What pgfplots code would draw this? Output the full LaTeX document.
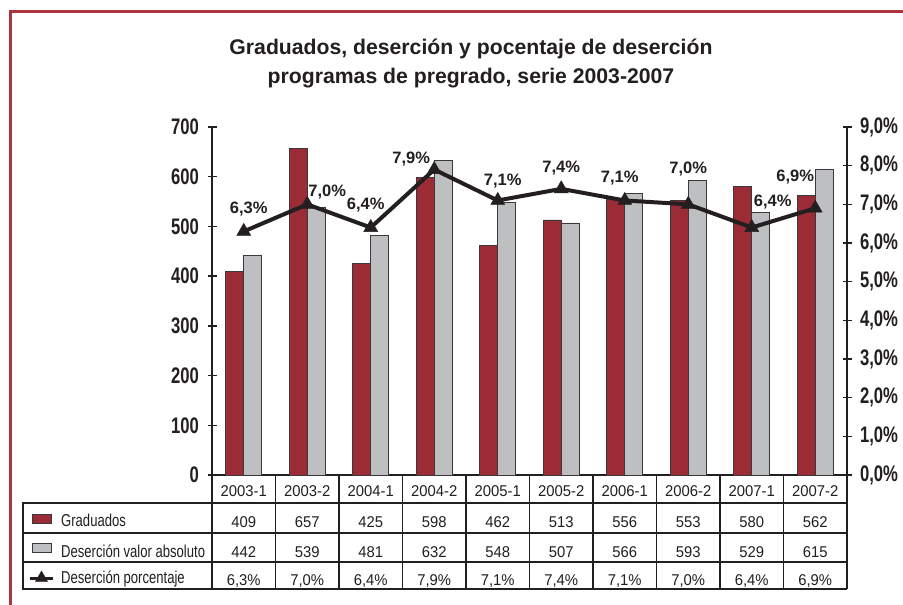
\documentclass[border=0pt]{standalone}
\usepackage{pgfplots}
\usepackage{pgfplotstable}
\pgfplotsset{compat=1.18}
\usepackage{fontspec}
\setmainfont{Liberation Sans}
\newfontfamily\narrowfont{Liberation Sans}[FakeStretch=0.74]
\newfontfamily\tabfont{Liberation Sans}[FakeStretch=0.76]
\newfontfamily\numfont{Liberation Sans}[FakeStretch=0.95]
\pgfkeys{/pgf/number format/assume math mode=true}

\definecolor{barred}{RGB}{155,43,53}
\definecolor{bargray}{RGB}{190,191,193}
\definecolor{bardraw}{RGB}{60,55,56}
\definecolor{ink}{RGB}{35,31,32}
\definecolor{framered}{RGB}{172,52,64}

% semester, graduates, dropouts (abs), dropout rate (%), label offsets (px)
\pgfplotstableread{
x lab grad des pct dx dy
0 2003-1 409 442 6.3 5 22
1 2003-2 657 539 7.0 20 12
2 2004-1 425 481 6.4 -5 23
3 2004-2 598 632 7.9 -23 11
4 2005-1 462 548 7.1 5 19
5 2005-2 513 507 7.4 0 21
6 2006-1 556 566 7.1 -5 22
7 2006-2 553 593 7.0 0 35
8 2007-1 580 529 6.4 21 26
9 2007-2 562 615 6.9 -20 31
}\semdata

\newcommand{\pct}[1]{\pgfmathprintnumber[fixed,fixed zerofill,precision=1,use comma]{#1}\%}

\begin{document}
\begin{tikzpicture}[
  tab/.style={anchor=base, inner sep=0pt, text=ink, font=\fontsize{15.6}{18}\numfont},
  leg/.style={anchor=base west, inner sep=0pt, text=ink, font=\fontsize{17.2}{19}\tabfont}]
\useasboundingbox (0pt,0pt) rectangle (903pt,-605pt);
\fill[white] (0pt,0pt) rectangle (903pt,-605pt);
\draw[framered, line width=3pt] (10pt,-605pt) -- (10pt,-11pt) -- (903pt,-11pt);

\node[anchor=base, inner sep=0pt, text=ink, font=\fontsize{21.2}{24}\selectfont\bfseries]
  at (471pt,-54pt) {Graduados, deserción y pocentaje de deserción};
\node[anchor=base, inner sep=0pt, text=ink, font=\fontsize{21.2}{24}\selectfont\bfseries]
  at (471pt,-83pt) {programas de pregrado, serie 2003-2007};

\pgfplotsset{
  every axis/.append style={
    scale only axis, width=635pt, height=348pt,
    at={(212pt,-475pt)}, anchor=south west,
    xmin=-0.5, xmax=9.5,
    axis line style={line width=1.8pt, ink},
    every tick/.style={line width=1.5pt, ink},
    major tick length=9pt, tick align=center,
    tick label style={text=ink, font=\fontsize{22.5}{24}\narrowfont\bfseries},
  },
}

\begin{axis}[
  ymin=0, ymax=700,
  axis y line*=left, axis x line*=bottom,
  xtick=\empty,
  ytick={0,100,...,700},
  yticklabel style={xshift=-5pt},
  ybar=0pt, bar width=18pt,
]
\addplot[fill=barred, draw=bardraw, line width=0.9pt] table[x=x, y=grad] {\semdata};
\addplot[fill=bargray, draw=bardraw, line width=0.9pt] table[x=x, y=des] {\semdata};
\end{axis}

\begin{axis}[
  ymin=0, ymax=9,
  axis y line*=right, axis x line=none,
  ytick={0,1,...,9},
  yticklabel={\pct{\tick}},
  yticklabel style={xshift=5pt},
  clip=false,
]
\addplot[ink, line width=4pt, mark=triangle*, mark size=8pt,
  mark options={solid, line width=0.5pt},
  point meta=y,
  visualization depends on={\thisrow{dx} \as \dx},
  visualization depends on={\thisrow{dy} \as \dy},
  nodes near coords={\pct{\pgfplotspointmeta}},
  every node near coord/.append style={anchor=center, xshift=\dx pt, yshift=\dy pt,
    text=ink, font=\fontsize{16.5}{18}\selectfont\bfseries},
] table[x=x, y=pct] {\semdata};
\end{axis}

% data table under the axis
\foreach \i in {0,...,9}{
  \pgfmathsetmacro{\xl}{212+63.5*\i}
  \pgfmathsetmacro{\xc}{\xl+31.75}
  \pgfplotstablegetelem{\i}{lab}\of\semdata \let\vlab\pgfplotsretval
  \pgfplotstablegetelem{\i}{grad}\of\semdata \let\vgrad\pgfplotsretval
  \pgfplotstablegetelem{\i}{des}\of\semdata \let\vdes\pgfplotsretval
  \pgfplotstablegetelem{\i}{pct}\of\semdata \let\vpct\pgfplotsretval
  \node[tab] at (\xc pt,-496pt) {\vlab};
  \node[tab] at (\xc pt,-527pt) {\vgrad};
  \node[tab] at (\xc pt,-557pt) {\vdes};
  \node[tab] at (\xc pt,-585pt) {\pct{\vpct}};
  \draw[ink, line width=1.3pt] (\xl pt,-475pt) -- (\xl pt,-589pt);
}
\draw[ink, line width=1.3pt] (847pt,-475pt) -- (847pt,-589pt);
\foreach \yy in {503,533,562,589}{
  \draw[ink, line width=2pt] (23pt,-\yy pt) -- (847pt,-\yy pt);
}
\draw[ink, line width=2pt] (23pt,-502pt) -- (23pt,-590pt);

% legend keys inside the table
\draw[bardraw, fill=barred, line width=0.9pt] (32pt,-514pt) rectangle (51pt,-523pt);
\draw[bardraw, fill=bargray, line width=0.9pt] (32pt,-543pt) rectangle (51pt,-552pt);
\draw[ink, line width=3pt] (30pt,-578pt) -- (53pt,-578pt);
\begin{scope}[shift={(41.5pt,-578pt)}]
  \pgfsetplotmarksize{7pt}
  \pgfsetfillcolor{ink}\pgfsetstrokecolor{ink}
  \pgfuseplotmark{triangle*}
\end{scope}
\node[leg] at (61pt,-526pt) {Graduados};
\node[leg] at (61pt,-557pt) {Deserción valor absoluto};
\node[leg] at (61pt,-583pt) {Deserción porcentaje};
\end{tikzpicture}
\end{document}
